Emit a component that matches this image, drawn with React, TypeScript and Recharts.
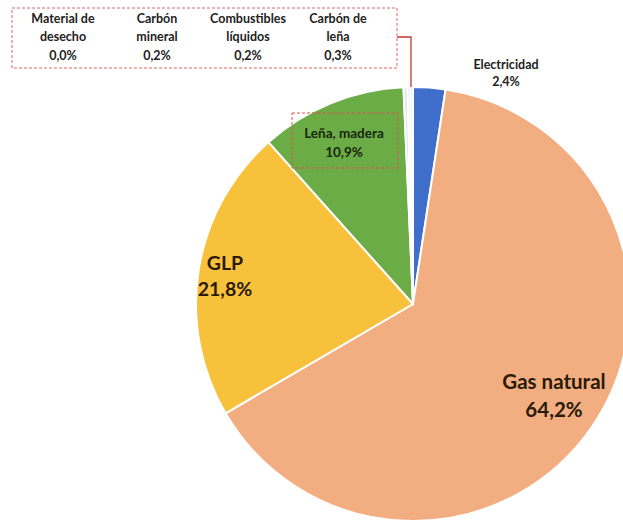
import React from 'react';
import { PieChart, Pie, Cell } from 'recharts';

const categories = ['Electricidad', 'Gas natural', 'GLP', 'Leña, madera', 'Carbón de leña', 'Combustibles líquidos', 'Carbón mineral', 'Material de desecho'];
const shares = [2.4, 64.2, 21.8, 10.9, 0.3, 0.2, 0.2, 0.0];
const boxCategories = ['Material de desecho', 'Carbón mineral', 'Combustibles líquidos', 'Carbón de leña'];
const boxLines = [['Material de', 'desecho'], ['Carbón', 'mineral'], ['Combustibles', 'líquidos'], ['Carbón de', 'leña']];

const colors = ['#3F6FCB', '#F2AE80', '#F8C13C', '#6CAC46', '#DDE6F2', '#C9D6EA', '#E6E6E6', '#F5F5F5'];

const data = categories.map((name, i) => ({ name, value: shares[i] }));

const CX = 413;
const CY = 304;
const R = 217;
const FONT = 'Lato, "Noto Sans", sans-serif';
const fmt = (v: number) => v.toFixed(1).replace('.', ',') + '%';

const bigLayout: Record<string, { dx: number; dy: number; gap: number; size: number; lines: string[]; color: string }> = {
  'GLP': { dx: -188, dy: -42, gap: 26, size: 19.5, lines: ['GLP'], color: '#2a1a08' },
  'Gas natural': { dx: 141, dy: 77, gap: 28, size: 20.5, lines: ['Gas natural'], color: '#2a1a08' },
  'Leña, madera': { dx: -69, dy: -171, gap: 19, size: 13.5, lines: ['Leña, madera'], color: '#16260c' },
  'Electricidad': { dx: 93, dy: -240, gap: 17, size: 12.5, lines: ['Electricidad'], color: '#222' },
};

const boxCols = [-350, -256, -165, -75];

const renderLabel = (p: any) => {
  const cx = typeof p.cx === 'number' ? p.cx : CX;
  const cy = typeof p.cy === 'number' ? p.cy : CY;
  const name = p.name ?? p.payload?.name;
  const lay = bigLayout[name];
  if (lay) {
    const x = cx + lay.dx;
    const y0 = cy + lay.dy;
    const rows = [...lay.lines, fmt(p.value)];
    const extra = name === 'Leña, madera' ? (
      <rect x={cx - 121} y={cy - 191} width={106} height={55} fill="none" stroke="#D9534F" strokeWidth={1} strokeDasharray="3 2" />
    ) : null;
    return (
      <g key={`lab-${name}`}>
        {extra}
        {rows.map((t, i) => (
          <text key={i} x={x} y={y0 + i * lay.gap} textAnchor="middle" dominantBaseline="central" fontFamily={FONT} fontWeight={700} fontSize={lay.size} fill={lay.color}>{t}</text>
        ))}
      </g>
    );
  }
  if (name === 'Carbón de leña') {
    return (
      <g key="lab-box">
        <rect x={cx - 401} y={cy - 296} width={385} height={60} fill="none" stroke="#E06666" strokeWidth={1} strokeDasharray="3 2" />
        <polyline points={`${cx - 16},${cy - 267} ${cx - 2},${cy - 267} ${cx - 2},${cy - R}`} fill="none" stroke="#C0392B" strokeWidth={1.3} />
        {boxCategories.map((c, j) => {
          const v = shares[categories.indexOf(c)];
          const rows = [...boxLines[j], fmt(v)];
          return rows.map((t, i) => (
            <text key={`${j}-${i}`} x={cx + boxCols[j]} y={cy - 286 + i * 18.5} textAnchor="middle" dominantBaseline="central" fontFamily={FONT} fontWeight={700} fontSize={12.5} fill="#222">{t}</text>
          ));
        })}
      </g>
    );
  }
  return <g key={`lab-empty-${p.index}`} />;
};

export default function App() {
  return (
    <div style={{ position: 'absolute', left: 0, top: 0, width: 623, height: 523, background: '#fff' }}>
      <PieChart width={623} height={523} margin={{ top: 0, right: 0, bottom: 0, left: 0 }}>
        <Pie
          data={data}
          dataKey="value"
          nameKey="name"
          cx={CX}
          cy={CY}
          outerRadius={R}
          startAngle={90}
          endAngle={-270}
          stroke="#fff"
          strokeWidth={2}
          label={renderLabel}
          labelLine={false}
          isAnimationActive={false}
        >
          {data.map((d, i) => (
            <Cell key={d.name} fill={colors[i]} />
          ))}
        </Pie>
      </PieChart>
    </div>
  );
}
